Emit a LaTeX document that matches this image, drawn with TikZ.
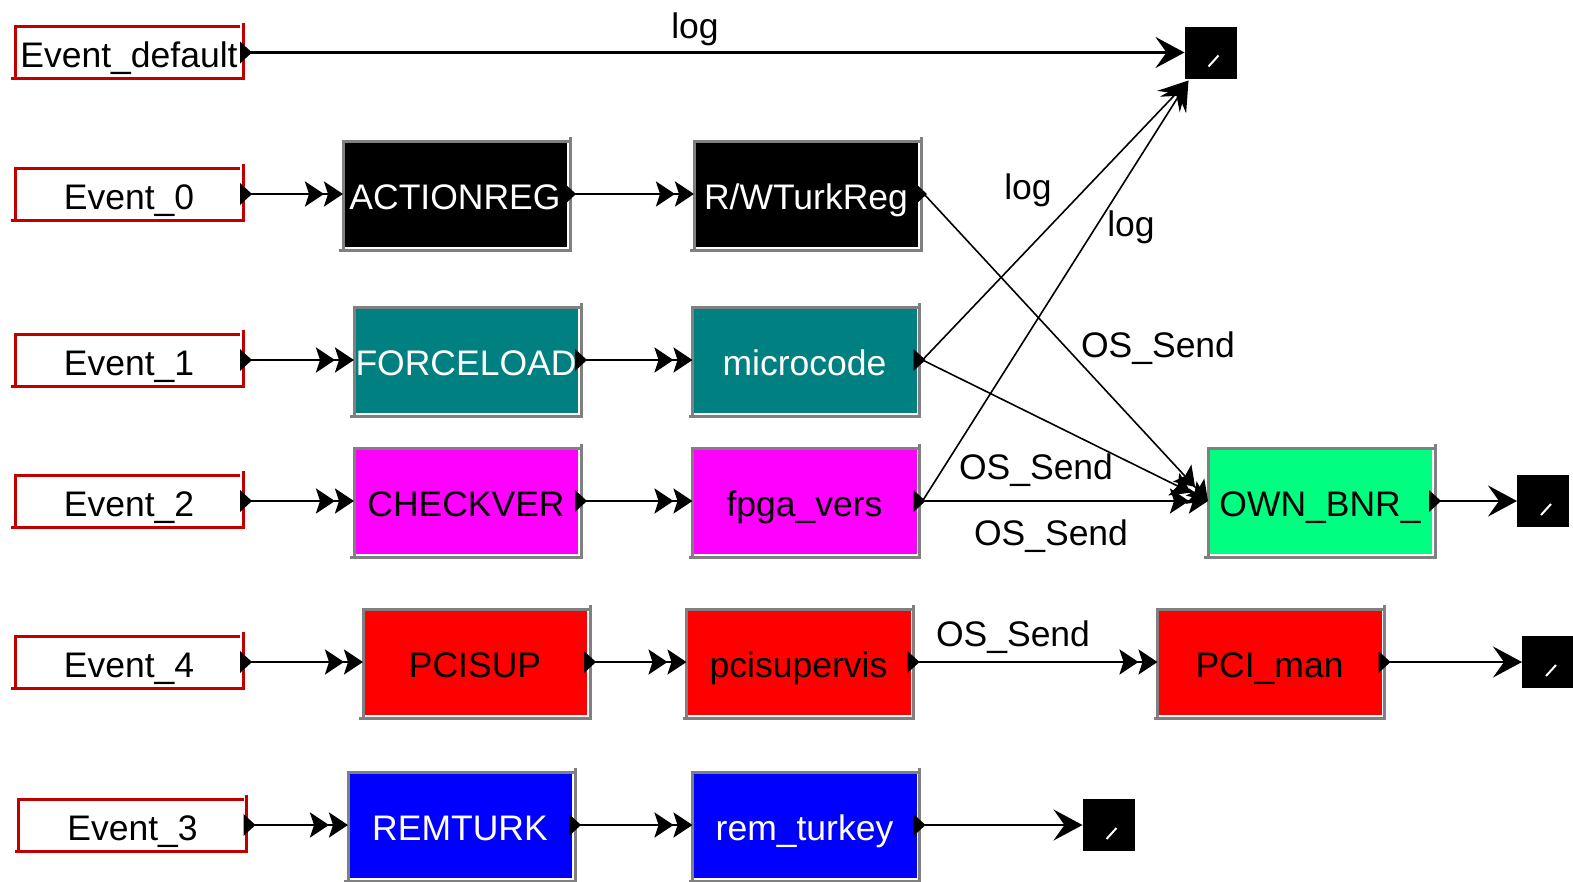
\documentclass[tikz,border=0pt]{standalone}
\usepackage{fontspec}
\setmainfont{Liberation Sans}
\usetikzlibrary{arrows.meta}
\definecolor{evred}{RGB}{192,0,0}
\definecolor{bordergray}{RGB}{128,128,128}
\definecolor{tealbox}{RGB}{0,128,128}
\definecolor{magbox}{RGB}{255,0,255}
\definecolor{redbox}{RGB}{255,0,0}
\definecolor{bluebox}{RGB}{0,0,255}
\definecolor{greenbox}{RGB}{0,255,128}
\newcommand\evframe[1]{%
  \draw[evred,line width=3pt] (#1.south west) -- (#1.north west) -- ([xshift=-3pt]#1.north east);
  \draw[evred,line width=3pt] ([yshift=4pt]#1.north east) -- (#1.south east) -- ([xshift=-4pt]#1.south west);}
\newcommand\procframe[1]{%
  \draw[bordergray,line width=3pt] ([yshift=-1.5pt]#1.south west) -- (#1.north west) -- ([xshift=1.5pt]#1.north east);
  \draw[bordergray,line width=3pt] ([shift={(3pt,4pt)}]#1.north east) -- ([shift={(3pt,-3pt)}]#1.south east) -- ([shift={(-4pt,-3pt)}]#1.south west);}
\newcommand\outport[1]{%
  \fill[black] ([xshift=-3pt]#1.east) -- ++(0pt,11pt) -- ++(12pt,-11pt) -- ++(-12pt,-11pt) -- cycle;}
\newcommand\sinkmark[1]{%
  \draw[white,line width=2pt] ([shift={(24pt,-40pt)}]#1.north west) -- ([shift={(34pt,-29pt)}]#1.north west);}
\begin{document}
\begin{tikzpicture}[x=1pt,y=-1pt,
  every node/.style={font=\fontsize{35.5pt}{42pt}\selectfont, inner sep=0pt, outer sep=0pt},
  evbox/.style={minimum width=228pt, minimum height=52pt, text height=32pt, text depth=1.6pt},
  procbox/.style={minimum width=224pt, minimum height=106pt, text height=32pt, text depth=1.6pt},
  sinkbox/.style={fill=black, minimum width=52pt, minimum height=52pt},
  conn/.style={line width=2.6pt},
  diag/.style={line width=1.6pt},
  dbl/.style={-{Stealth[length=19pt,width=25pt,inset=4pt]Stealth[length=19pt,width=25pt,inset=4pt]}},
  snk/.style={-{Stealth[length=29pt,width=31pt,inset=11pt]}},
  lbl/.style={text=black},
]
\useasboundingbox (0,0) rectangle (1573,881);
\fill[white] (0,0) rectangle (1573,881);

% event sources
\node[evbox] (evd) at (129,52.5) {Event\_default};
\node[evbox] (ev0) at (129,194) {Event\_0};
\node[evbox] (ev1) at (129,360) {Event\_1};
\node[evbox] (ev2) at (129,501) {Event\_2};
\node[evbox] (ev4) at (129,662) {Event\_4};
\node[evbox] (ev3) at (132.5,825) {Event\_3};
\evframe{evd}\evframe{ev0}\evframe{ev1}\evframe{ev2}\evframe{ev4}\evframe{ev3}

% process boxes
\node[procbox,fill=black,text=white] (actionreg) at (455,194) {ACTIONREG};
\node[procbox,fill=black,text=white] (rw) at (806,194) {R/WTurkReg};
\node[procbox,fill=tealbox,text=white] (forceload) at (466,360) {FORCELOAD};
\node[procbox,fill=tealbox,text=white] (micro) at (804.5,360) {microcode};
\node[procbox,fill=magbox,text=black] (checkver) at (466,501) {CHECKVER};
\node[procbox,fill=magbox,text=black] (fpga) at (804.5,501) {fpga\_vers};
\node[procbox,fill=greenbox,text=black] (own) at (1320,501) {OWN\_BNR\_};
\node[procbox,fill=redbox,text=black] (pcisup) at (475,662) {PCISUP};
\node[procbox,fill=redbox,text=black] (pcisupervis) at (798.5,662) {pcisupervis};
\node[procbox,fill=redbox,text=black] (pciman) at (1269.5,662) {PCI\_man};
\node[procbox,fill=bluebox,text=white] (remturk) at (460,825) {REMTURK};
\node[procbox,fill=bluebox,text=white] (remturkey) at (804.5,825) {rem\_turkey};
\foreach \n in {actionreg,rw,forceload,micro,checkver,fpga,own,pcisup,pcisupervis,pciman,remturk,remturkey}{\procframe{\n}}

% sinks
\node[sinkbox] (sink0) at (1210.5,52.5) {};
\node[sinkbox] (sink2) at (1543,501) {};
\node[sinkbox] (sink4) at (1548,662) {};
\node[sinkbox] (sink3) at (1108.5,825) {};
\sinkmark{sink0}\sinkmark{sink2}\sinkmark{sink4}\sinkmark{sink3}

% connectors
\draw[conn,snk] (evd.east) -- (sink0.west);
\draw[conn,dbl] (ev0.east) -- (actionreg.west);
\draw[conn,dbl] (actionreg.east) -- (rw.west);
\draw[conn,dbl] (ev1.east) -- (forceload.west);
\draw[conn,dbl] (forceload.east) -- (micro.west);
\draw[conn,dbl] (ev2.east) -- (checkver.west);
\draw[conn,dbl] (checkver.east) -- (fpga.west);
\draw[conn,dbl] (fpga.east) -- (own.west);
\draw[conn,snk] (own.east) -- (sink2.west);
\draw[conn,dbl] (ev4.east) -- (pcisup.west);
\draw[conn,dbl] (pcisup.east) -- (pcisupervis.west);
\draw[conn,dbl] (pcisupervis.east) -- (pciman.west);
\draw[conn,snk] (pciman.east) -- (sink4.west);
\draw[conn,dbl] (ev3.east) -- (remturk.west);
\draw[conn,dbl] (remturk.east) -- (remturkey.west);
\draw[conn,snk] (remturkey.east) -- (sink3.west);
\draw[diag,dbl] ([xshift=6pt]rw.east) -- (own.west);
\draw[diag,dbl] ([xshift=6pt]micro.east) -- (own.west);
\draw[diag,snk] ([xshift=6pt]micro.east) -- ([shift={(4pt,-2pt)}]sink0.south west);
\draw[diag,snk] ([xshift=6pt]fpga.east) -- ([shift={(4pt,-2pt)}]sink0.south west);

% output ports
\foreach \n in {evd,ev0,ev1,ev2,ev4,ev3,actionreg,rw,forceload,micro,checkver,fpga,own,pcisup,pcisupervis,pciman,remturk,remturkey}{\outport{\n}}

% labels
\node[lbl] (l1) at (695,29) {log};
\node[lbl] (l2) at (1028,190) {log};
\node[lbl] (l3) at (1131,227) {log};
\node[lbl] (l4) at (1158,348) {OS\_Send};
\node[lbl] (l5) at (1036,470) {OS\_Send};
\node[lbl] (l6) at (1051,536) {OS\_Send};
\node[lbl] (l7) at (1013,637) {OS\_Send};
\end{tikzpicture}
\end{document}
